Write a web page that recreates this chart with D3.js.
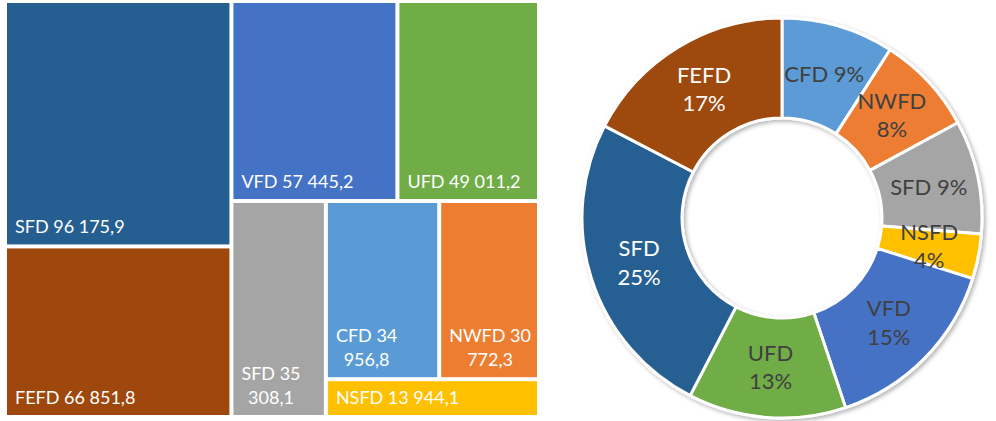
<!DOCTYPE html>
<html>
<head>
<meta charset="utf-8">
<script src="https://cdn.jsdelivr.net/npm/d3@7"></script>
<style>
  body { margin: 0; background: #fff; }
  svg { display: block; font-family: Lato, sans-serif; }
</style>
</head>
<body>
<svg id="chart" width="996" height="421"></svg>
<script>
const names = ["SFD", "FEFD", "VFD", "UFD", "SFD", "CFD", "NWFD", "NSFD"];
const values = [96175.9, 66851.8, 57445.2, 49011.2, 35308.1, 34956.8, 30772.3, 13944.1];
const colors = ["#255E91", "#9E480E", "#4472C4", "#70AD47", "#A5A5A5", "#5B9BD5", "#ED7D31", "#FFC000"];
const donutText = ["#fff", "#fff", "#404040", "#404040", "#404040", "#404040", "#404040", "#404040"];

// strips of the treemap, nested as Excel split them (indexes into the arrays above)
const treeStrips = [[0, 1], [[2, 3], [4, [[5, 6], 7]]]];

// the donut goes clockwise from 12 o'clock in this order
const donutOrder = [5, 6, 4, 7, 2, 3, 0, 1];
const donutWrap = [false, true, false, true, true, true, true, true];

const ru = d3.formatLocale({ decimal: ",", thousands: " ", grouping: [3], currency: ["", ""] });
const fmtVal = ru.format(",.1f");
const fmtPct = d3.format(".0%");
const total = d3.sum(values);

const svg = d3.select("#chart");

// ---- treemap
const root = d3.hierarchy(treeStrips, d => Array.isArray(d) ? d : null)
    .sum(d => Array.isArray(d) ? 0 : values[d]);

d3.treemap()
    .tile(d3.treemapSliceDice)
    .size([530, 412])
    .paddingInner(4)(root);

const tm = svg.append("g").attr("transform", "translate(7,3)");

const cell = tm.selectAll("g.cell")
    .data(root.leaves())
    .join("g")
    .attr("class", "cell");

cell.append("rect")
    .attr("x", d => d.x0)
    .attr("y", d => d.y0)
    .attr("width", d => d.x1 - d.x0)
    .attr("height", d => d.y1 - d.y0)
    .attr("fill", d => colors[d.data]);

cell.each(function (d) {
    const full = names[d.data] + " " + fmtVal(values[d.data]);
    const t = d3.select(this).append("text")
        .attr("fill", "#fff")
        .style("font-size", "18px")
        .attr("x", d.x0 + 8)
        .attr("y", d.y1 - 11)
        .text(full);
    if (t.node().getComputedTextLength() > d.x1 - d.x0 - 16) {
        // wrap at the last space, each line centred in the block
        const cut = full.lastIndexOf(" ");
        const lines = [full.slice(0, cut), full.slice(cut + 1)];
        t.text(null);
        const spans = lines.map((s, i) => t.append("tspan")
            .attr("y", d.y1 - 11 - (lines.length - 1 - i) * 24)
            .text(s));
        const w = d3.max(spans, s => s.node().getComputedTextLength());
        spans.forEach(s => s.attr("x", d.x0 + 8 + w / 2));
        t.attr("text-anchor", "middle");
    }
});

// ---- donut
const cx = 782, cy = 218, rIn = 100, rOut = 200;

const defs = svg.append("defs");
const shadow = defs.append("filter").attr("id", "shadow")
    .attr("x", "-10%").attr("y", "-10%").attr("width", "120%").attr("height", "120%");
shadow.append("feDropShadow")
    .attr("dx", 2).attr("dy", 2).attr("stdDeviation", 2)
    .attr("flood-color", "#000").attr("flood-opacity", 0.3);

const pie = d3.pie().sort(null).value(i => values[i]);
const arcs = pie(donutOrder);
const arc = d3.arc().innerRadius(rIn).outerRadius(rOut);
const labelArc = d3.arc().innerRadius(150).outerRadius(150);

const donut = svg.append("g").attr("transform", `translate(${cx},${cy})`);

donut.append("g")
    .attr("filter", "url(#shadow)")
    .selectAll("path")
    .data(arcs)
    .join("path")
    .attr("d", arc)
    .attr("fill", d => colors[d.data])
    .attr("stroke", "#fff")
    .attr("stroke-width", 3)
    .attr("stroke-linejoin", "round");

donut.selectAll("text")
    .data(arcs)
    .join("text")
    .attr("text-anchor", "middle")
    .attr("fill", d => donutText[d.data])
    .style("font-size", "22px")
    .each(function (d, i) {
        const [x, y] = labelArc.centroid(d);
        const name = names[d.data];
        const pct = fmtPct(values[d.data] / total);
        const t = d3.select(this);
        if (donutWrap[i]) {
            t.append("tspan").attr("x", x).attr("y", y - 7).text(name);
            t.append("tspan").attr("x", x).attr("y", y + 21.5).text(pct);
        } else {
            t.append("tspan").attr("x", x).attr("y", y + 7.5).text(name + " " + pct);
        }
    });
</script>
</body>
</html>
